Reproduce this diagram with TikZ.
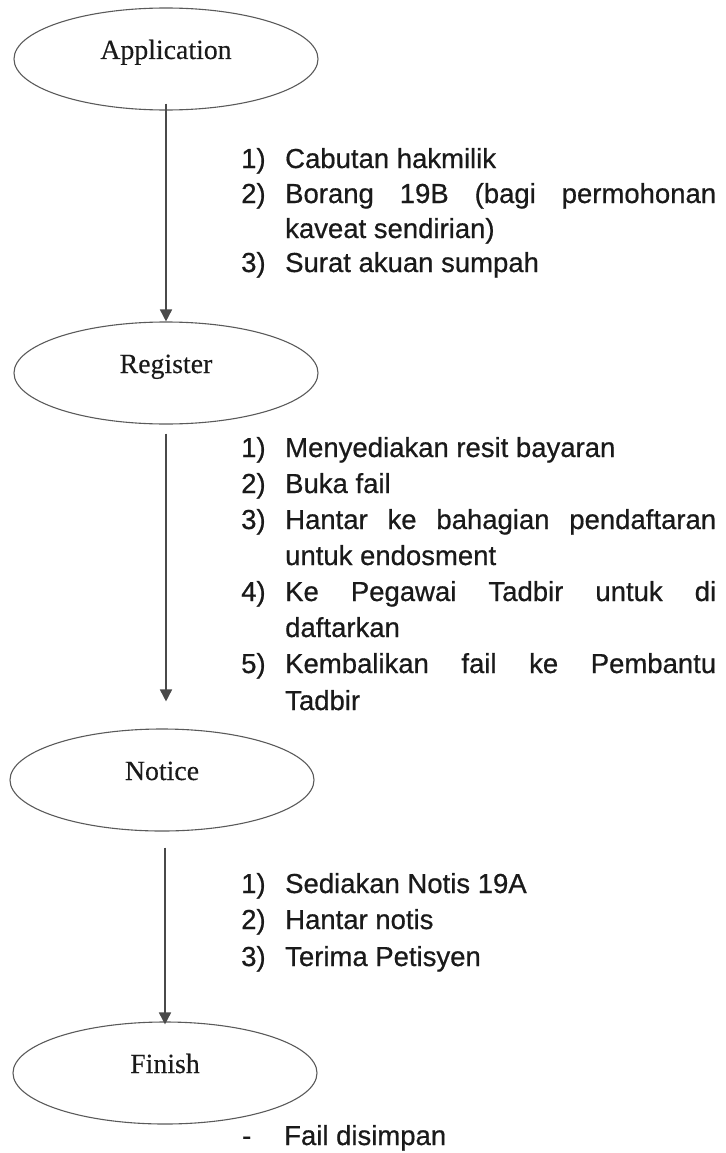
\documentclass[tikz,border=0pt]{standalone}
\usepackage{fontspec}
\setmainfont{Liberation Serif}[FakeBold=0.3]
\newfontfamily\arialf{Liberation Sans}[FakeBold=0.6]
\usetikzlibrary{shapes.geometric,arrows.meta}
\definecolor{inkc}{HTML}{1A1A1A}
\definecolor{linec}{HTML}{4A4A4A}
\definecolor{ellc}{HTML}{5A5A5A}
\tikzset{
  stage/.style={ellipse, draw=ellc, line width=1.1pt, minimum width=304pt, minimum height=102pt, inner sep=0pt},
  stagetext/.style={anchor=base, inner sep=0pt, text=inkc, font=\fontsize{27.8}{33}\selectfont},
  flow/.style={draw=linec, line width=1.6pt, -{Triangle[width=12pt,length=12pt]}},
  num/.style={anchor=base west, inner sep=0pt, text=inkc, font=\arialf\fontsize{27.5}{33}\selectfont},
  itemtext/.style={anchor=base west, inner sep=0pt, text=inkc, font=\arialf\fontsize{27.5}{33}\selectfont}
}
\newcommand\jline[1]{\makebox[431pt][s]{#1}}
\begin{document}
\begin{tikzpicture}[x=1pt,y=-1pt]
\useasboundingbox (0,0) rectangle (725,1153);
% stages
\node[stage] (app) at (166,59) {};
\node[stagetext] (appt) at (app.center) {Application};
\node[stage] (reg) at (166,373) {};
\node[stagetext] (regt) at (reg.center) {Register};
\node[stage] (noti) at (162,780) {};
\node[stagetext] (notit) at (noti.center) {Notice};
\node[stage] (fin) at (165,1073) {};
\node[stagetext] (fint) at (fin.center) {Finish};
% connectors
\draw[flow, shorten <=-7pt] (app.south) -- (app.south |- reg.north);
\draw[flow, shorten <=9pt, shorten >=27pt] (reg.south) -- (reg.south |- noti.north);
\draw[flow, shorten <=16pt, shorten >=-3pt] (fin.north |- noti.south) -- (fin.north);
% block 1
\node[num] (a1n) at (241,168) {1)};
\node[itemtext] (a1) at (285,168) {Cabutan hakmilik};
\node[num] (a2n) at (241,203) {2)};
\node[itemtext] (a2) at (285,203) {\jline{Borang 19B (bagi permohonan}};
\node[itemtext] (a2b) at (285,238) {kaveat sendirian)};
\node[num] (a3n) at (241,272) {3)};
\node[itemtext] (a3) at (285,272) {Surat akuan sumpah};
% block 2
\node[num] (b1n) at (241,457) {1)};
\node[itemtext] (b1) at (285,457) {Menyediakan resit bayaran};
\node[num] (b2n) at (241,493) {2)};
\node[itemtext] (b2) at (285,493) {Buka fail};
\node[num] (b3n) at (241,529) {3)};
\node[itemtext] (b3) at (285,529) {\jline{Hantar ke bahagian pendaftaran}};
\node[itemtext] (b3b) at (285,565) {untuk endosment};
\node[num] (b4n) at (241,601) {4)};
\node[itemtext] (b4) at (285,601) {\jline{Ke Pegawai Tadbir untuk di}};
\node[itemtext] (b4b) at (285,637) {daftarkan};
\node[num] (b5n) at (241,673) {5)};
\node[itemtext] (b5) at (285,673) {\jline{Kembalikan fail ke Pembantu}};
\node[itemtext] (b5b) at (285,710) {Tadbir};
% block 3
\node[num] (c1n) at (241,893) {1)};
\node[itemtext] (c1) at (285,893) {Sediakan Notis 19A};
\node[num] (c2n) at (241,929) {2)};
\node[itemtext] (c2) at (285,929) {Hantar notis};
\node[num] (c3n) at (241,966) {3)};
\node[itemtext] (c3) at (285,966) {Terima Petisyen};
% final note
\node[num] (dn) at (242,1145) {-};
\node[itemtext] (d1) at (284,1145) {Fail disimpan};
\end{tikzpicture}
\end{document}
